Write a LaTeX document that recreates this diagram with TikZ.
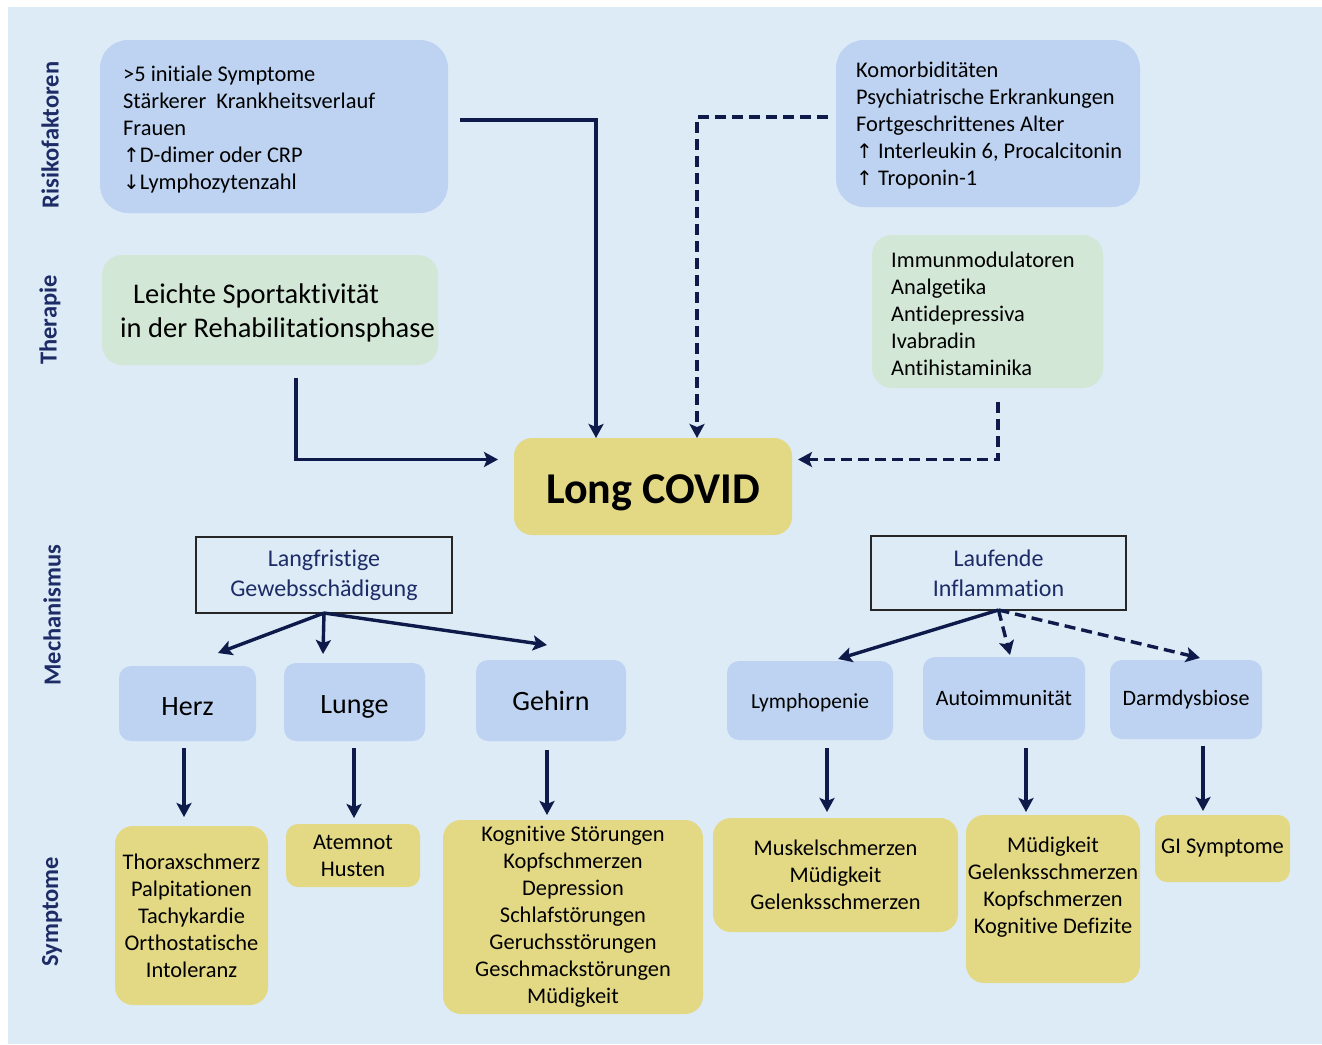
\documentclass[tikz,border=0pt]{standalone}
\usepackage{fontspec}
\setmainfont{Carlito}[Ligatures=NoCommon]
\newfontfamily\symf{DejaVu Sans}
\usetikzlibrary{arrows.meta,calc}
\definecolor{bg}{HTML}{DDEBF7}
\definecolor{bluebox}{HTML}{BDD3F1}
\definecolor{greenbox}{HTML}{D2E7D6}
\definecolor{yellowbox}{HTML}{E3D985}
\definecolor{navy}{HTML}{0E1A4A}
\definecolor{labnavy}{HTML}{1D2B66}
\newcommand{\lowr}[2]{\raisebox{-#1}[0pt][0pt]{#2}}
\begin{document}
\begin{tikzpicture}[x=1pt,y=-1pt,
  shp/.style={inner sep=0pt, outer sep=0pt},
  bbox/.style={shp, fill=bluebox},
  gbox/.style={shp, fill=greenbox},
  ybox/.style={shp, fill=yellowbox, rounded corners=18pt, align=center, text=black, font=\fontsize{22.4}{27}\selectfont},
  mbox/.style={shp, fill=bluebox, rounded corners=12pt, text=black},
  frame/.style={shp, draw=black!85, line width=1.2pt, align=center, text=labnavy, font=\fontsize{24}{30}\selectfont},
  txt/.style={inner sep=0pt, align=left, text=black, font=\fontsize{22.4}{27}\selectfont},
  side/.style={rotate=90, text=labnavy, font=\fontsize{24.5}{28}\selectfont\bfseries, inner sep=0pt},
  arr/.style={draw=navy, line width=3.4pt, -{Stealth[length=14pt,width=15pt,inset=3pt]}},
  dsh/.style={arr, dash pattern=on 11pt off 6pt}]
\path[use as bounding box] (0,0) rectangle (1322,1044);
\fill[white] (0,0) rectangle (1322,1044);
\fill[bg] (8,7) rectangle (1322,1044);

% side labels
\node[side] (sl1) at (50,135) {Risikofaktoren};
\node[side] (sl2) at (50,320) {Therapie};
\node[side] (sl3) at (52,615) {Mechanismus};
\node[side] (sl4) at (52,912) {Symptome};

% risk factors
\node[bbox, rounded corners=28pt, minimum width=348pt, minimum height=173pt] (rf1) at (274,126.5) {};
\node[txt, anchor=west] (rf1t) at (123,130) {>5 initiale Symptome\\Stärkerer\ \ Krankheitsverlauf\\Frauen\\{\symf\fontsize{20}{27}\selectfont ↑}D-dimer oder CRP\\{\symf\fontsize{20}{27}\selectfont ↓}Lymphozytenzahl};
\node[bbox, rounded corners=28pt, minimum width=304pt, minimum height=167pt] (rf2) at (988,123.5) {};
\node[txt, anchor=west] (rf2t) at (856,126) {Komorbiditäten\\Psychiatrische Erkrankungen\\Fortgeschrittenes Alter\\{\symf\fontsize{20}{27}\selectfont ↑} Interleukin 6, Procalcitonin\\{\symf\fontsize{20}{27}\selectfont ↑} Troponin-1};

% therapy
\node[gbox, rounded corners=20pt, minimum width=336pt, minimum height=110pt] (th1) at (270,310) {};
\node[txt, anchor=west, font=\fontsize{28.5}{34}\selectfont] (th1t) at (120,313) {\hspace*{13pt}Leichte Sportaktivität\\in der Rehabilitationsphase};
\node[gbox, rounded corners=20pt, minimum width=231pt, minimum height=153pt] (th2) at (987.5,311.5) {};
\node[txt, anchor=west] (th2t) at (891,314) {Immunmodulatoren\\Analgetika\\Antidepressiva\\Ivabradin\\Antihistaminika};

% Long COVID
\node[shp, fill=yellowbox, rounded corners=18pt, minimum width=278pt, minimum height=97pt, font=\fontsize{44}{50}\selectfont\bfseries] (lc) at (653,486.5) {\lowr{17pt}{Long COVID}};

\draw[arr] ([xshift=12pt,yshift=6.5pt]rf1.east) -| ([xshift=-57pt]lc.north);
\draw[dsh] ([xshift=-8pt,yshift=6.5pt]rf2.west) -| ([xshift=44pt]lc.north);
\draw[arr] ([xshift=26pt,yshift=-13pt]th1.south) |- ([xshift=-16pt,yshift=27pt]lc.west);
\draw[dsh] ([xshift=10.5pt,yshift=-14pt]th2.south) |- ([xshift=6pt,yshift=27pt]lc.east);

% mechanisms
\node[frame, minimum width=256pt, minimum height=76pt] (lg) at (324,575) {Langfristige\\Gewebsschädigung};
\node[frame, minimum width=255pt, minimum height=74pt] (lf) at (998.5,573) {Laufende\\Inflammation};

\node[mbox, minimum width=137pt, minimum height=75pt, font=\fontsize{28}{32}\selectfont] (herz) at (187.5,703.5) {\lowr{11.5pt}{Herz}};
\node[mbox, minimum width=141pt, minimum height=78pt, font=\fontsize{28}{32}\selectfont] (lunge) at (354.5,702) {\lowr{11.5pt}{Lunge}};
\node[mbox, minimum width=150pt, minimum height=81pt, font=\fontsize{28}{32}\selectfont] (gehirn) at (551,700.5) {Gehirn};
\node[mbox, minimum width=166pt, minimum height=79pt, font=\fontsize{21.5}{26}\selectfont] (lymph) at (810,700.5) {\lowr{8pt}{Lymphopenie}};
\node[mbox, minimum width=162pt, minimum height=83pt, font=\fontsize{22}{26}\selectfont] (auto) at (1004,698.5) {Autoimmunität};
\node[mbox, minimum width=152pt, minimum height=79pt, font=\fontsize{22}{26}\selectfont] (darm) at (1186,699.5) {Darmdysbiose};

\draw[arr] (lg.south) -- ([xshift=30.5pt,yshift=13pt]herz.north);
\draw[arr] (lg.south) -- ([xshift=-31.5pt,yshift=9pt]lunge.north);
\draw[arr] (lg.south) -- ([xshift=-4pt,yshift=15pt]gehirn.north);
\draw[arr] (lf.south) -- ([xshift=28pt,yshift=2pt]lymph.north);
\draw[dsh] (lf.south) -- ([xshift=6pt,yshift=2pt]auto.north);
\draw[dsh] (lf.south) -- ([xshift=14pt,yshift=2pt]darm.north);

% symptoms
\node[ybox, minimum width=153pt, minimum height=179pt] (hs) at (191.5,915.5) {Thoraxschmerz\\Palpitationen\\Tachykardie\\Orthostatische\\Intoleranz};
\node[ybox, rounded corners=12pt, minimum width=134pt, minimum height=63pt] (ls) at (353,855.5) {Atemnot\\Husten};
\node[ybox, minimum width=260pt, minimum height=194pt] (gs) at (573,917) {Kognitive Störungen\\Kopfschmerzen\\Depression\\Schlafstörungen\\Geruchsstörungen\\Geschmackstörungen\\Müdigkeit};
\node[ybox, minimum width=245pt, minimum height=114pt] (ms) at (835.5,875) {Muskelschmerzen\\Müdigkeit\\Gelenksschmerzen};
\node[ybox, minimum width=174pt, minimum height=168pt] (as) at (1053,899) {Müdigkeit\\Gelenksschmerzen\\Kopfschmerzen\\Kognitive Defizite\\\mbox{}};
\node[ybox, rounded corners=12pt, minimum width=135pt, minimum height=67pt] (gi) at (1222.5,848.5) {GI Symptome};

\draw[arr] ([xshift=-3.5pt,yshift=-7pt]herz.south) -- ([xshift=-7.5pt,yshift=9pt]hs.north);
\draw[arr] ([xshift=-0.5pt,yshift=-7pt]lunge.south) -- ([xshift=1pt,yshift=6pt]ls.north);
\draw[arr] ([xshift=-4pt,yshift=-9pt]gehirn.south) -- ([xshift=-26pt,yshift=5pt]gs.north);
\draw[arr] ([xshift=17pt,yshift=-8pt]lymph.south) -- ([xshift=-8.5pt,yshift=6pt]ms.north);
\draw[arr] ([xshift=22pt,yshift=-8pt]auto.south) -- ([xshift=-27pt,yshift=3pt]as.north);
\draw[arr] ([xshift=17pt,yshift=-7pt]darm.south) -- ([xshift=-19.5pt,yshift=4pt]gi.north);
\end{tikzpicture}
\end{document}
